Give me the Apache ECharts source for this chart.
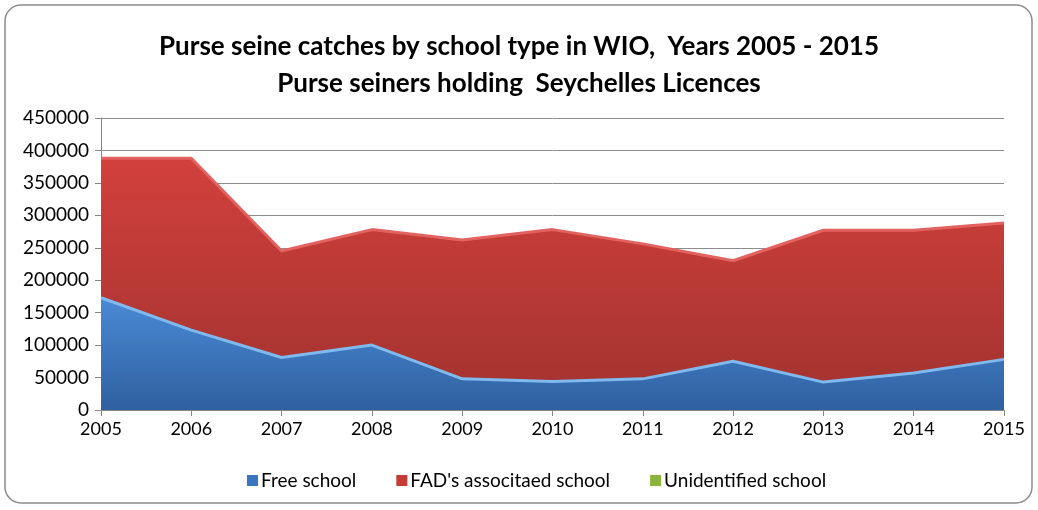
<!DOCTYPE html>
<html>
<head>
<meta charset="utf-8">
<script src="https://cdn.jsdelivr.net/npm/echarts@6/dist/echarts.min.js"></script>
<style>
  html, body { margin: 0; padding: 0; background: #fff; }
  #chart { width: 1038px; height: 510px; }
</style>
</head>
<body>
<div id="chart"></div>
<script>
// years on the x axis
const years = ['2005', '2006', '2007', '2008', '2009', '2010', '2011', '2012', '2013', '2014', '2015'];
// catches (stacked)
const freeSchool = [173000, 123000, 81000, 100000, 48000, 44000, 48000, 75000, 43000, 57000, 78000];
const fadSchool = [215000, 265000, 164000, 178000, 214000, 234000, 208000, 155000, 234000, 220000, 210000];
const unidentified = [0, 0, 0, 0, 0, 0, 0, 0, 0, 0, 0];

const font = 'Lato, "Open Sans", sans-serif';

const chart = echarts.init(document.getElementById('chart'));

const option = {
  backgroundColor: '#fff',
  textStyle: { fontFamily: font },
  graphic: [
    {
      type: 'rect',
      shape: { x: 5, y: 5, width: 1027, height: 498, r: 16 },
      style: { fill: 'none', stroke: '#8c8c8c', lineWidth: 1.5 },
      z: -1
    }
  ],
  title: {
    text: 'Purse seine catches by school type in WIO,  Years 2005 - 2015\nPurse seiners holding  Seychelles Licences',
    left: 'center',
    top: 23,
    textStyle: {
      fontFamily: font,
      fontWeight: 'bold',
      fontSize: 26,
      lineHeight: 37,
      color: '#000'
    }
  },
  legend: {
    bottom: 15,
    left: 242,
    itemGap: 40,
    itemWidth: 11,
    itemHeight: 11,
    icon: 'rect',
    textStyle: { fontFamily: font, fontSize: 19, color: '#000', padding: [0, 0, 0, -2] },
    data: ['Free school', "FAD's associtaed school", 'Unidentified school']
  },
  grid: { left: 101, right: 34, top: 118, bottom: 100 },
  xAxis: {
    type: 'category',
    data: years,
    boundaryGap: false,
    axisLine: { lineStyle: { color: '#868686', width: 1 } },
    axisTick: { show: true, length: 6, lineStyle: { color: '#868686' } },
    axisLabel: { color: '#000', fontSize: 18, margin: 10 },
    splitLine: { show: false }
  },
  yAxis: {
    type: 'value',
    min: 0,
    max: 450000,
    interval: 50000,
    axisLine: { show: true, lineStyle: { color: '#868686', width: 1 } },
    axisTick: { show: true, length: 6, lineStyle: { color: '#868686' } },
    axisLabel: { color: '#000', fontSize: 19, margin: 12, formatter: (v) => String(v) },
    splitLine: { lineStyle: { color: '#8c8c8c', width: 1 } }
  },
  series: [
    {
      name: 'Free school',
      type: 'line',
      stack: 'total',
      data: freeSchool,
      symbol: 'none',
      lineStyle: { color: '#7fb9ee', width: 3 },
      itemStyle: { color: '#3b74bf' },
      areaStyle: {
        opacity: 1,
        color: new echarts.graphic.LinearGradient(0, 0, 0, 1, [
          { offset: 0, color: '#4a8ad6' },
          { offset: 1, color: '#2f609f' }
        ])
      },
      z: 3
    },
    {
      name: "FAD's associtaed school",
      type: 'line',
      stack: 'total',
      data: fadSchool,
      symbol: 'none',
      lineStyle: { color: '#e2625f', width: 3 },
      itemStyle: { color: '#c53b37' },
      areaStyle: {
        opacity: 1,
        color: new echarts.graphic.LinearGradient(0, 0, 0, 1, [
          { offset: 0, color: '#d2403c' },
          { offset: 1, color: '#a63430' }
        ])
      },
      z: 2
    },
    {
      name: 'Unidentified school',
      type: 'line',
      stack: 'total',
      data: unidentified,
      symbol: 'none',
      lineStyle: { width: 0 },
      itemStyle: { color: '#8cb43c' },
      areaStyle: { opacity: 1, color: '#8cb43c' },
      z: 1
    }
  ]
};

chart.setOption(option);
</script>
</body>
</html>
